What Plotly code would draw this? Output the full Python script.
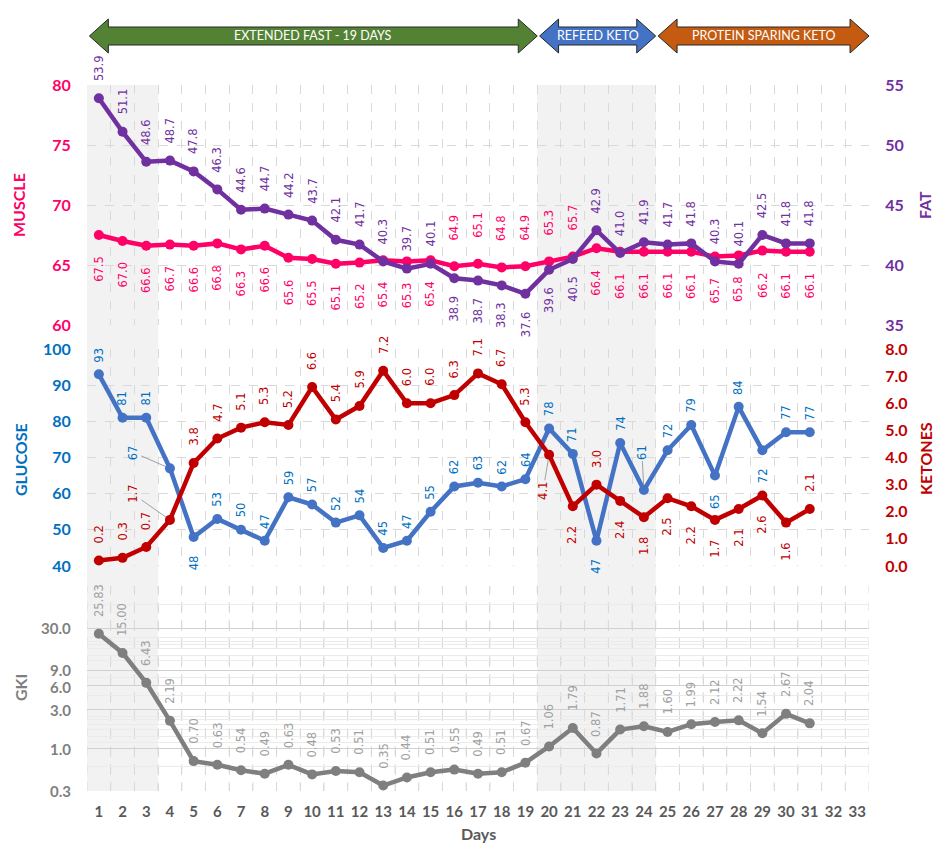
import math
import plotly.graph_objects as go

# ---------------- data ----------------
days = list(range(1, 32))
x_ticks = list(range(1, 34))

muscle = [67.5, 67.0, 66.6, 66.7, 66.6, 66.8, 66.3, 66.6, 65.6, 65.5, 65.1, 65.2, 65.4, 65.3, 65.4,
          64.9, 65.1, 64.8, 64.9, 65.3, 65.7, 66.4, 66.1, 66.1, 66.1, 66.1, 65.7, 65.8, 66.2, 66.1, 66.1]
fat = [53.9, 51.1, 48.6, 48.7, 47.8, 46.3, 44.6, 44.7, 44.2, 43.7, 42.1, 41.7, 40.3, 39.7, 40.1,
       38.9, 38.7, 38.3, 37.6, 39.6, 40.5, 42.9, 41.0, 41.9, 41.7, 41.8, 40.3, 40.1, 42.5, 41.8, 41.8]
glucose = [93, 81, 81, 67, 48, 53, 50, 47, 59, 57, 52, 54, 45, 47, 55,
           62, 63, 62, 64, 78, 71, 47, 74, 61, 72, 79, 65, 84, 72, 77, 77]
ketones = [0.2, 0.3, 0.7, 1.7, 3.8, 4.7, 5.1, 5.3, 5.2, 6.6, 5.4, 5.9, 7.2, 6.0, 6.0,
           6.3, 7.1, 6.7, 5.3, 4.1, 2.2, 3.0, 2.4, 1.8, 2.5, 2.2, 1.7, 2.1, 2.6, 1.6, 2.1]
gki = [25.83, 15.00, 6.43, 2.19, 0.70, 0.63, 0.54, 0.49, 0.63, 0.48, 0.53, 0.51, 0.35, 0.44, 0.51,
       0.55, 0.49, 0.51, 0.67, 1.06, 1.79, 0.87, 1.71, 1.88, 1.60, 1.99, 2.12, 2.22, 1.54, 2.67, 2.04]

phase_names = ["EXTENDED FAST - 19 DAYS", "REFEED KETO", "PROTEIN SPARING KETO"]
phase_start = [1, 20, 25]
phase_end = [19, 24, 33]
phase_colors = ["#548235", "#4472C4", "#C55A11"]

shade_start = [1, 20]
shade_end = [3, 24]

gki_ticks = [0.3, 1, 3, 6, 9, 30]
gki_minor_grid = [0.6, 1.2, 1.4, 1.7, 2, 2.3, 2.5, 4.5, 7.5, 12, 14, 17, 19, 21, 23, 60]

# ---------------- style ----------------
PINK = "#FF0066"
PURPLE = "#7030A0"
BLUE_LINE = "#4472C4"
BLUE_TXT = "#0070C0"
RED = "#C00000"
GRAY = "#7F7F7F"
GRAY_TXT = "#A0A0A0"
GRID = "#D9D9D9"
AXFONT = "Lato, Calibri, sans-serif"
LBLFONT = "DejaVu Sans, Verdana, sans-serif"
LBLSIZE = 11.5

# label placement (which days get the label above the point)
muscle_above = set(range(16, 22))
fat_above = set(range(1, 16)) | set(range(22, 32))
glucose_above = set(days) - {5, 22, 27, 29}
ketone_above = set(range(1, 20)) | {22, 31}
# labels drawn with a leader line: (series, day) -> (ax, ay) in px
leaders = {("glucose", 4): (-37, -16), ("ketones", 4): (-37, -26),
           ("ketones", 20): (-6, 36), ("glucose", 24): (-2, -38)}
# small vertical nudges of crowded GKI tick labels (px)
gki_tick_nudge = {9: 1, 6: -2}

fig = go.Figure()

def line(xs, ys, color, xa, ya, width=4.5):
    fig.add_trace(go.Scatter(x=xs, y=ys, mode="lines+markers", xaxis=xa, yaxis=ya,
                             line=dict(color=color, width=width),
                             marker=dict(color=color, size=10),
                             hoverinfo="x+y", showlegend=False))

line(days, muscle, PINK, "x3", "y")
line(days, fat, PURPLE, "x3", "y2")
line(days, glucose, BLUE_LINE, "x2", "y3")
line(days, ketones, RED, "x2", "y4")
line(days, gki, GRAY, "x", "y5")

annotations = []

def labels(name, xs, ys, texts, color, xref, yref, above, gap_above, gap_below, log=False):
    for d, v, t in zip(xs, ys, texts):
        yv = math.log10(v) if log else v
        if (name, d) in leaders:
            ax, ay = leaders[(name, d)]
            annotations.append(dict(x=d, y=yv, xref=xref, yref=yref, text=t, textangle=-90,
                                    showarrow=True, arrowhead=0, arrowwidth=0.8, arrowcolor="#8C8C8C",
                                    ax=ax, ay=ay, standoff=5,
                                    font=dict(family=LBLFONT, size=LBLSIZE, color=color)))
            continue
        up = d in above
        annotations.append(dict(x=d, y=yv, xref=xref, yref=yref, text=t, textangle=-90,
                                showarrow=False, xanchor="center",
                                yanchor="bottom" if up else "top",
                                yshift=gap_above if up else -gap_below,
                                font=dict(family=LBLFONT, size=LBLSIZE, color=color)))

labels("muscle", days, muscle, [f"{v:.1f}" for v in muscle], PINK, "x3", "y", muscle_above, 24, 19)
labels("fat", days, fat, [f"{v:.1f}" for v in fat], PURPLE, "x3", "y2", fat_above, 15, 15)
labels("glucose", days, glucose, [f"{v}" for v in glucose], BLUE_TXT, "x2", "y3", glucose_above, 10, 16)
labels("ketones", days, ketones, [f"{v:.1f}" for v in ketones], RED, "x2", "y4", ketone_above, 15, 18)
labels("gki", days, gki, [f"{v:.2f}" for v in gki], GRAY_TXT, "x", "y5", set(days), 15, 15, log=True)

# GKI tick labels (drawn as text so crowded ones can be nudged apart)
for v in gki_ticks:
    annotations.append(dict(x=0, y=math.log10(v), xref="paper", yref="y5", text=f"<b>{v:.1f}</b>",
                            showarrow=False, xanchor="right", yanchor="middle", xshift=-14,
                            yshift=gki_tick_nudge.get(v, 0),
                            font=dict(family=AXFONT, size=15, color=GRAY)))

# ---------------- layout geometry ----------------
H_TOP, H_BOT = 60, 56
PLOT_H = 847 - H_TOP - H_BOT
def py(px):  # pixel row -> paper fraction
    return (847 - H_BOT - px) / PLOT_H

M_L, M_R = 87, 75
PLOT_W = 944 - M_L - M_R
def pxx(px):
    return (px - M_L) / PLOT_W

d1 = [py(325), py(85)]
d2 = [py(566), py(349)]
d3 = [0, py(586)]

halfs = [t - 0.5 for t in x_ticks] + [x_ticks[-1] + 0.5]

shapes = []
for s, e in zip(shade_start, shade_end):
    shapes.append(dict(type="rect", xref="x", yref="paper", x0=s - 0.5, x1=e + 0.5,
                       y0=0, y1=d1[1], fillcolor="#F2F2F2", line=dict(width=0), layer="below"))
# vertical dashed grid in the GKI panel
for h in halfs:
    shapes.append(dict(type="line", xref="x", yref="y5 domain", x0=h, x1=h, y0=0, y1=1,
                       line=dict(color=GRID, width=1, dash="dash"), layer="below"))

# phase arrows
head = 0.8
yt_head, yt_body, yc, yb_body, yb_head = py(19), py(27), py(36), py(45), py(53)
for name, s, e, c in zip(phase_names, phase_start, phase_end, phase_colors):
    x0, x1 = s - 0.4, e + 0.5
    path = (f"M {x0},{yc} L {x0+head},{yt_head} L {x0+head},{yt_body} L {x1-head},{yt_body} "
            f"L {x1-head},{yt_head} L {x1},{yc} L {x1-head},{yb_head} L {x1-head},{yb_body} "
            f"L {x0+head},{yb_body} L {x0+head},{yb_head} Z")
    shapes.append(dict(type="path", xref="x", yref="paper", path=path, fillcolor=c,
                       line=dict(color="#262626", width=1), layer="above"))
    annotations.append(dict(x=(x0 + x1) / 2, y=yc, xref="x", yref="paper", text=name,
                            showarrow=False, xanchor="center", yanchor="middle",
                            font=dict(family=AXFONT, size=12.5, color="white")))

# axis titles
def title(text, x, ycen, color):
    annotations.append(dict(x=x, y=ycen, xref="paper", yref="paper", text=f"<b>{text}</b>",
                            textangle=-90, showarrow=False, xanchor="center", yanchor="middle",
                            font=dict(family=AXFONT, size=16, color=color)))

title("MUSCLE", pxx(18), py(205), PINK)
title("FAT", pxx(924), py(205), PURPLE)
title("GLUCOSE", pxx(20), py(460), BLUE_TXT)
title("KETONES", pxx(925), py(458), RED)
title("GKI", pxx(20), py(688), GRAY)
annotations.append(dict(x=0.5, y=py(833), xref="paper", yref="paper", text="<b>Days</b>",
                        showarrow=False, xanchor="center", yanchor="middle",
                        font=dict(family=AXFONT, size=16, color="#595959")))

xgrid = dict(tickvals=halfs, showgrid=True, gridcolor=GRID, griddash="dash", gridwidth=1)

def tfont(color, size=16):
    return dict(family=AXFONT, size=size, color=color, weight="bold")

common_x = dict(range=[0.5, 33.5], tickvals=x_ticks, showgrid=False, zeroline=False,
                minor=xgrid, fixedrange=True, automargin=False)
common_y = dict(zeroline=False, ticks="outside", ticklen=12, tickcolor="rgba(0,0,0,0)",
                automargin=False)

fig.update_layout(
    width=944, height=847, autosize=False,
    margin=dict(l=M_L, r=M_R, t=H_TOP, b=H_BOT),
    paper_bgcolor="white", plot_bgcolor="rgba(0,0,0,0)",
    showlegend=False,
    xaxis=dict(**common_x, anchor="y5", ticks="outside", ticklen=7, tickcolor="rgba(0,0,0,0)",
               tickfont=tfont("#595959", 15)),
    xaxis2=dict(**common_x, anchor="y3", matches="x", showticklabels=False),
    xaxis3=dict(**common_x, anchor="y", matches="x", showticklabels=False),
    yaxis=dict(**common_y, domain=d1, anchor="x3", range=[60, 80], dtick=5, tick0=60,
               showgrid=True, gridcolor=GRID, griddash="dash", tickfont=tfont(PINK)),
    yaxis2=dict(**common_y, overlaying="y", side="right", anchor="x3", range=[35, 55], dtick=5,
                tick0=35, showgrid=False, tickfont=tfont(PURPLE)),
    yaxis3=dict(**common_y, domain=d2, anchor="x2", range=[40, 100], dtick=10, tick0=40,
                showgrid=True, gridcolor=GRID, griddash="dash", tickfont=tfont(BLUE_TXT)),
    yaxis4=dict(**common_y, overlaying="y3", side="right", anchor="x2", range=[0, 8], dtick=1,
                tick0=0, tickformat=".1f", showgrid=False, tickfont=tfont(RED)),
    yaxis5=dict(**common_y, domain=d3, anchor="x", type="log", range=[math.log10(0.3), 2],
                tickvals=gki_ticks, showticklabels=False,
                showgrid=True, gridcolor="#D0D0D0",
                minor=dict(tickvals=gki_minor_grid, showgrid=True, gridcolor="#EBEBEB")),
    shapes=shapes,
    annotations=annotations,
)

fig.write_html("out.html", config={"displayModeBar": False},
               post_script="document.body.style.margin='0px';")
